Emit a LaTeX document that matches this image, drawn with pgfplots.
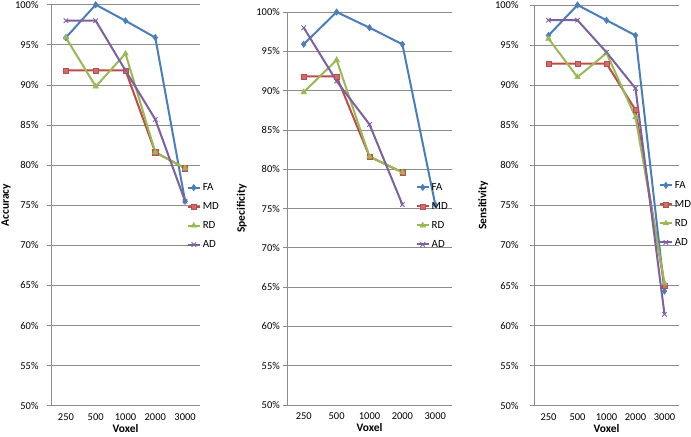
\documentclass[border=0pt]{standalone}
\usepackage{pgfplots}
\pgfplotsset{compat=1.18}
\usepackage{fontspec}
\setmainfont{Carlito}
\definecolor{cFA}{HTML}{4A7EBB}
\definecolor{cMD}{HTML}{BE4B48}
\definecolor{cRD}{HTML}{98B954}
\definecolor{cAD}{HTML}{7D60A0}
\definecolor{gridc}{HTML}{8C8C8C}
\pgfplotsset{
  panel/.style={
    scale only axis, clip=false,
    xmin=0.5, xmax=5.5, ymin=50, ymax=100,
    xtick={1,2,3,4,5}, xticklabels={250,500,1000,2000,3000},
    ytick={50,55,...,100},
    yticklabel={\pgfmathparse{int(round(\tick))}\pgfmathresult\%},
    axis lines*=left,
    axis line style={gridc, line width=0.7bp},
    x axis line style={draw=none},
    ymajorgrids, grid style={gridc, line width=0.7bp},
    tick style={gridc, line width=0.7bp},
    tick align=outside, major tick length=4bp,
    xtick style={draw=none},
    tick label style={font=\fontsize{10.5}{12}\selectfont},
    label style={font=\fontsize{11.5}{13}\selectfont\bfseries},
    xlabel={Voxel},
    xlabel style={at={(axis description cs:0.5,0)}, anchor=center, yshift=-23bp},
    legend style={draw=none, fill=none, font=\fontsize{11}{12}\selectfont,
      row sep=6.5bp, inner sep=0pt, anchor=north west, cells={anchor=west},
      /tikz/every even column/.append style={column sep=0.5bp}},
    legend image code/.code={\draw[mark repeat=2,mark phase=2,#1] plot coordinates {(0bp,0bp) (6bp,0bp) (12bp,0bp)};},
    every axis plot/.append style={line width=2bp},
  },
  sFA/.style={color=cFA, mark=diamond*, mark size=3.2bp, mark options={fill=cFA, line width=0.5bp}},
  sMD/.style={color=cMD, mark=square*, mark size=2.6bp, mark options={fill=cMD!80!white, line width=0.5bp}},
  sRD/.style={color=cRD, mark=triangle*, mark size=3.2bp, mark options={fill=cRD, line width=0.5bp}},
  sAD/.style={color=cAD, mark=x, mark size=3.2bp, mark options={line width=0.9bp}},
}
\begin{document}
\begin{tikzpicture}
\useasboundingbox (0,0) rectangle (691bp,437bp);
% Accuracy
\begin{axis}[panel, at={(51bp,31.3bp)}, anchor=south west, width=149bp, height=401bp,
  ylabel={Accuracy}, ylabel style={at={(axis description cs:-0.302,0.5)}, anchor=center},
  yticklabel style={xshift=-5bp},
  legend style={at={(axis description cs:0.91,0.56)}}]
\addplot[sFA] coordinates {(1,95.9) (2,100) (3,98.0) (4,95.9) (5,75.5)};
\addplot[sMD] coordinates {(1,91.8) (2,91.8) (3,91.8) (4,81.6) (5,79.6)};
\addplot[sRD] coordinates {(1,95.9) (2,89.8) (3,93.9) (4,81.6) (5,79.6)};
\addplot[sAD] coordinates {(1,98.0) (2,98.0) (3,91.8) (4,85.7) (5,75.5)};
\legend{FA,MD,RD,AD}
\end{axis}
% Specificity
\begin{axis}[panel, at={(287.3bp,32bp)}, anchor=south west, width=164.4bp, height=393bp,
  ylabel={Specificity}, ylabel style={at={(axis description cs:-0.277,0.5)}, anchor=center},
  yticklabel style={xshift=0bp},
  legend style={at={(axis description cs:0.78,0.57)}}]
\addplot[sFA] coordinates {(1,95.9) (2,100) (3,98.0) (4,95.9) (5,75.5)};
\addplot[sMD] coordinates {(1,91.8) (2,91.8) (3,81.6) (4,79.6)};
\addplot[sRD] coordinates {(1,89.8) (2,93.9) (3,81.6) (4,79.6)};
\addplot[sAD] coordinates {(1,98.0) (2,91.2) (3,85.7) (4,75.5)};
\legend{FA,MD,RD,AD}
\end{axis}
% Sensitivity
\begin{axis}[panel, at={(534bp,31.3bp)}, anchor=south west, width=145bp, height=400.7bp,
  ylabel={Sensitivity}, ylabel style={at={(axis description cs:-0.35,0.5)}, anchor=center},
  yticklabel style={xshift=-8bp},
  legend style={at={(axis description cs:0.86,0.566)}}]
\addplot[sFA] coordinates {(1,96.2) (2,100) (3,98.1) (4,96.2) (5,64.3)};
\addplot[sMD] coordinates {(1,92.7) (2,92.7) (3,92.7) (4,86.9) (5,65.0)};
\addplot[sRD] coordinates {(1,95.8) (2,91.0) (3,94.0) (4,86.0) (5,65.3)};
\addplot[sAD] coordinates {(1,98.1) (2,98.1) (3,94.1) (4,89.6) (5,61.4)};
\legend{FA,MD,RD,AD}
\end{axis}
\end{tikzpicture}
\end{document}
